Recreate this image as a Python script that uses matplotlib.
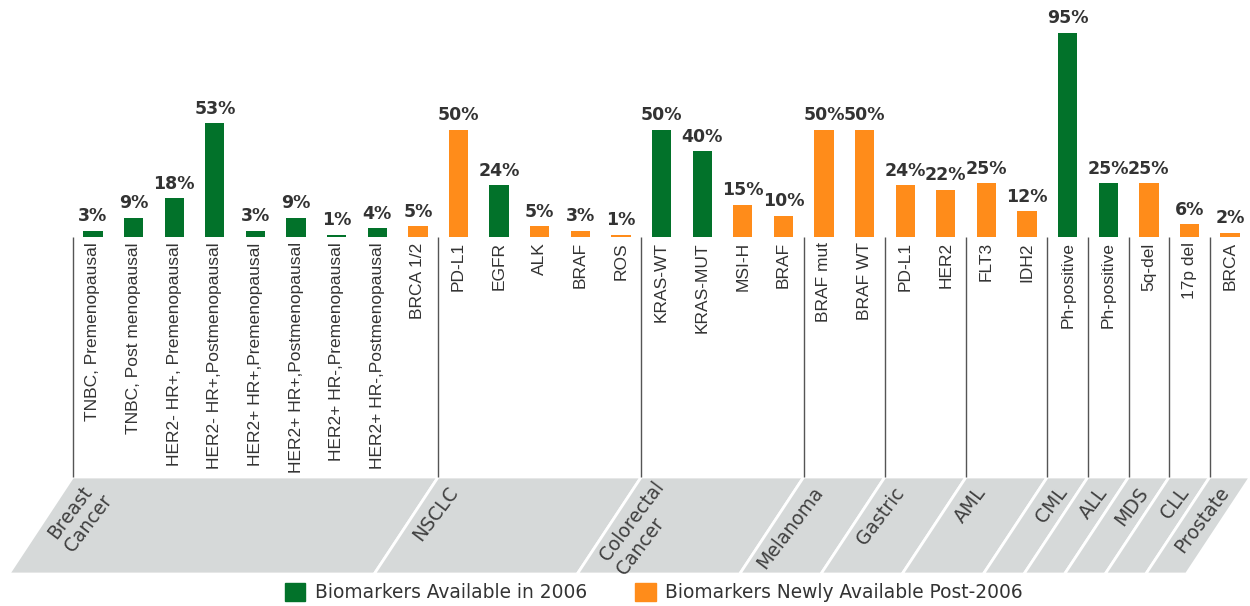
import matplotlib
matplotlib.use('Agg')
from matplotlib import pyplot as plt
from matplotlib.patches import Polygon, Patch
import numpy as np

# data
markers = ['TNBC, Premenopausal', 'TNBC, Post menopausal', 'HER2- HR+, Premenopausal',
           'HER2- HR+,Postmenopausal', 'HER2+ HR+,Premenopausal', 'HER2+ HR+,Postmenopausal',
           'HER2+ HR-,Premenopausal', 'HER2+ HR-,Postmenopausal', 'BRCA 1/2',
           'PD-L1', 'EGFR', 'ALK', 'BRAF', 'ROS',
           'KRAS-WT', 'KRAS-MUT', 'MSI-H', 'BRAF',
           'BRAF mut', 'BRAF WT',
           'PD-L1', 'HER2',
           'FLT3', 'IDH2',
           'Ph-positive', 'Ph-positive', '5q-del', '17p del', 'BRCA']
values = [3, 9, 18, 53, 3, 9, 1, 4, 5,
          50, 24, 5, 3, 1,
          50, 40, 15, 10,
          50, 50,
          24, 22,
          25, 12,
          95, 25, 25, 6, 2]
# 1 = available in 2006, 0 = newly available post-2006
in_2006 = [1, 1, 1, 1, 1, 1, 1, 1, 0,
           0, 1, 0, 0, 0,
           1, 1, 0, 0,
           0, 0,
           0, 0,
           0, 0,
           1, 1, 0, 0, 0]
groups = ['Breast\nCancer', 'NSCLC', 'Colorectal\nCancer', 'Melanoma', 'Gastric',
          'AML', 'CML', 'ALL', 'MDS', 'CLL', 'Prostate']
group_sizes = [9, 5, 4, 2, 2, 2, 1, 1, 1, 1, 1]
legend_labels = ['Biomarkers Available in 2006', 'Biomarkers Newly Available Post-2006']

GREEN = '#02722a'
ORANGE = '#ff8c1a'
BAND = '#d6d9d9'
TEXT = '#333333'

W, H = 1250, 606
PX_X = 40.61   # pixels per bar slot
PX_Y = 2.147   # pixels per percent
BASE = 237     # baseline, pixels from top

fig = plt.figure(figsize=(W / 100, H / 100), dpi=100)
ax = fig.add_axes([0, 0, 1, 1])
ax.axis('off')
ax.set_xlim(-93 / PX_X, (W - 93) / PX_X)
ax.set_ylim(-(H - BASE) / PX_Y, BASE / PX_Y)

x = np.arange(len(values))
colors = [GREEN if g else ORANGE for g in in_2006]
ax.bar(x, values, width=0.475, color=colors)

for i, v in enumerate(values):
    ax.annotate(f'{v}%', (i, v), xytext=(0, 4), textcoords='offset points',
                ha='center', va='bottom', fontsize=12.5, fontweight='bold', color=TEXT)
    ax.text(i, -2.5, markers[i], rotation=90, ha='center', va='top',
            fontsize=12.5, family='Liberation Sans', color=TEXT)

# group separators and slanted bands
band_top = -(477 - BASE) / PX_Y
band_bot = -(574 - BASE) / PX_Y
slant = 64 / PX_X
edges = np.concatenate([[0], np.cumsum(group_sizes)]) - 0.5
ax.vlines(edges[:-1], band_top, 0, color='#555555', lw=1)
for k, name in enumerate(groups):
    a, b = edges[k], edges[k + 1]
    ax.add_patch(Polygon([(a, band_top), (b, band_top), (b - slant, band_bot), (a - slant, band_bot)],
                         closed=True, facecolor=BAND, edgecolor='white', lw=2))
    two_lines = '\n' in name
    dx = 0.27 if two_lines else 0.2
    dy = -0.5 if two_lines else -3
    ax.text(a + dx, band_top + dy, name, rotation=53, rotation_mode='anchor',
            ha='right', va='top', multialignment='left', fontsize=13.5, color='#404040')

handles = [Patch(color=GREEN, label=legend_labels[0]), Patch(color=ORANGE, label=legend_labels[1])]
fig.legend(handles=handles, loc='center', bbox_to_anchor=(0.523, 0.022), ncol=2, frameon=False,
           fontsize=13.4, handlelength=1.1, handleheight=1.1, handletextpad=0.5,
           columnspacing=2.6, labelcolor=TEXT)

fig.savefig('out.png', dpi=100)
